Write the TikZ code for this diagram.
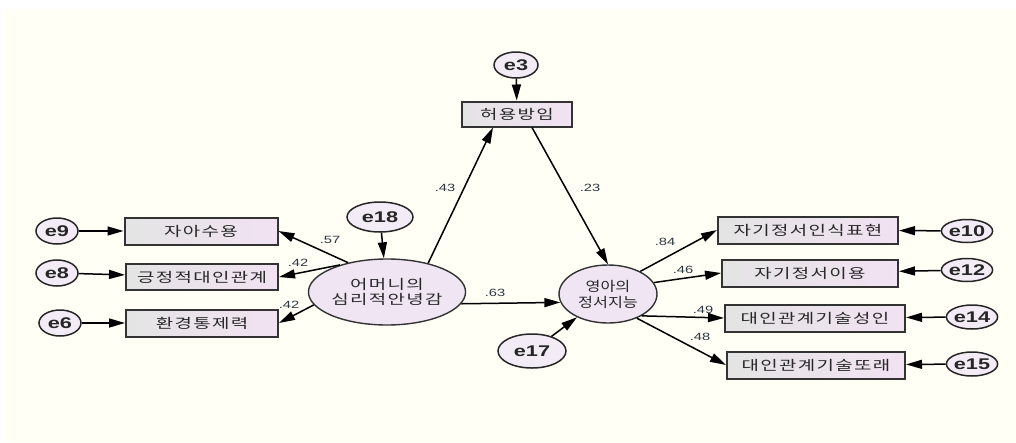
\documentclass[tikz,border=0pt]{standalone}
\usepackage{fontspec}
\setmainfont{Liberation Sans}[FakeStretch=1.4]
\newfontfamily\kr{Noto Sans CJK KR}[FakeStretch=1.4,LetterSpace=10]
\newfontfamily\krn{Noto Sans CJK KR}[FakeStretch=1.2]
\usetikzlibrary{shapes.geometric,arrows.meta}
\definecolor{bg}{RGB}{255,255,246}
\definecolor{elfill}{RGB}{240,230,243}
\definecolor{efill}{RGB}{243,236,246}
\definecolor{boxL}{RGB}{228,228,228}
\definecolor{boxR}{RGB}{242,226,242}
\definecolor{coefc}{RGB}{45,55,65}
\definecolor{txt}{RGB}{40,40,40}
\begin{document}
\begin{tikzpicture}[x=1pt,y=-1pt,
 errnode/.style={ellipse,draw=black!85,line width=1.5pt,fill=efill,inner sep=0pt,text=black!85,font=\bfseries\fontsize{15.5}{16}\selectfont},
 latent/.style={ellipse,draw=black!80,line width=1.4pt,fill=elfill,inner sep=0pt,align=center,text=txt},
 obsbox/.style={rectangle,draw=black!80,line width=2pt,left color=boxL,right color=boxR,inner sep=0pt,text=txt,font=\kr\fontsize{13.5}{15}\selectfont},
 pth/.style={line width=1.5pt,-{Triangle[length=16pt,width=9pt]}},
 coef/.style={font=\fontsize{10.5}{10.5}\selectfont,text=coefc,inner sep=0pt}
]
\useasboundingbox (0,0) rectangle (1016,442);
\fill[white] (0,0) rectangle (1016,442);
\fill[bg] (5,9) rectangle (1016,442);

% latent variables
\node[latent,minimum width=130pt,minimum height=66pt,font=\kr\fontsize{13.5}{14.5}\selectfont] (mother) at (387,292) {어머니의\\심리적안녕감};
\node[latent,minimum width=98pt,minimum height=58pt,font=\krn\fontsize{13.5}{16}\selectfont] (infant) at (608,294) {영아의\\정서지능};

% observed boxes
\node[obsbox,minimum width=153pt,minimum height=27pt] (b1) at (201,231) {자아수용};
\node[obsbox,minimum width=152pt,minimum height=26pt] (b2) at (202,277) {긍정적대인관계};
\node[obsbox,minimum width=152pt,minimum height=27pt] (b3) at (202,323) {환경통제력};
\node[obsbox,minimum width=110pt,minimum height=25pt] (hm) at (517,114) {허용방임};
\node[obsbox,minimum width=180pt,minimum height=27pt] (r1) at (808,230) {자기정서인식표현};
\node[obsbox,minimum width=176pt,minimum height=27pt] (r2) at (810,273) {자기정서이용};
\node[obsbox,minimum width=180pt,minimum height=27pt] (r3) at (815,318) {대인관계기술성인};
\node[obsbox,minimum width=178pt,minimum height=27pt] (r4) at (816,365) {대인관계기술또래};

% error terms
\node[errnode,minimum width=42pt,minimum height=26pt] (e9) at (57,231) {e9};
\node[errnode,minimum width=42pt,minimum height=26pt] (e8) at (57,273) {e8};
\node[errnode,minimum width=42pt,minimum height=26pt] (e6) at (60,323) {e6};
\node[errnode,minimum width=44pt,minimum height=26pt] (e3) at (516,65) {e3};
\node[errnode,minimum width=66pt,minimum height=30pt] (e18) at (380,217) {e18};
\node[errnode,minimum width=68pt,minimum height=34pt] (e17) at (532,351) {e17};
\node[errnode,minimum width=42pt,minimum height=23pt] (e10) at (967,231) {e10};
\node[errnode,minimum width=42pt,minimum height=23pt] (e12) at (967,270) {e12};
\node[errnode,minimum width=44pt,minimum height=24pt] (e14) at (972,317) {e14};
\node[errnode,minimum width=44pt,minimum height=24pt] (e15) at (972,364) {e15};

% error arrows
\draw[pth] (e9) -- (b1);
\draw[pth] (e8) -- (b2);
\draw[pth] (e6) -- (b3);
\draw[pth] (e3) -- (hm);
\draw[pth] (e18) -- (mother);
\draw[pth] (e17) -- (infant);
\draw[pth] (e10) -- (r1);
\draw[pth] (e12) -- (r2);
\draw[pth] (e14) -- (r3);
\draw[pth] (e15) -- (r4);

% structural paths
\draw[pth] (mother.143) -- (b1.east);
\draw[pth] (mother.150) -- (b2.east);
\draw[pth] (mother.190) -- (b3.east);
\draw[pth] (mother.35) -- ([xshift=-24pt]hm.south);
\draw[pth] ([xshift=15pt]hm.south) -- (infant.north);
\draw[pth] (mother.-9) -- (infant.190);
\draw[pth] (infant.35) -- (r1.west);
\draw[pth] (infant.14) -- (r2.west);
\draw[pth] (infant.-33) -- (r3.west);
\draw[pth] (infant.-40) -- (r4.west);

% coefficients
\node[coef] (c57) at (330,240) {.57};
\node[coef] (c42a) at (298,263) {.42};
\node[coef] (c42b) at (289,305) {.42};
\node[coef] (c43) at (445,188) {.43};
\node[coef] (c23) at (590,188) {.23};
\node[coef] (c63) at (495,293) {.63};
\node[coef] (c84) at (665,242) {.84};
\node[coef] (c46) at (683,270) {.46};
\node[coef] (c49) at (703,310) {.49};
\node[coef] (c48) at (700,337) {.48};
\end{tikzpicture}
\end{document}
